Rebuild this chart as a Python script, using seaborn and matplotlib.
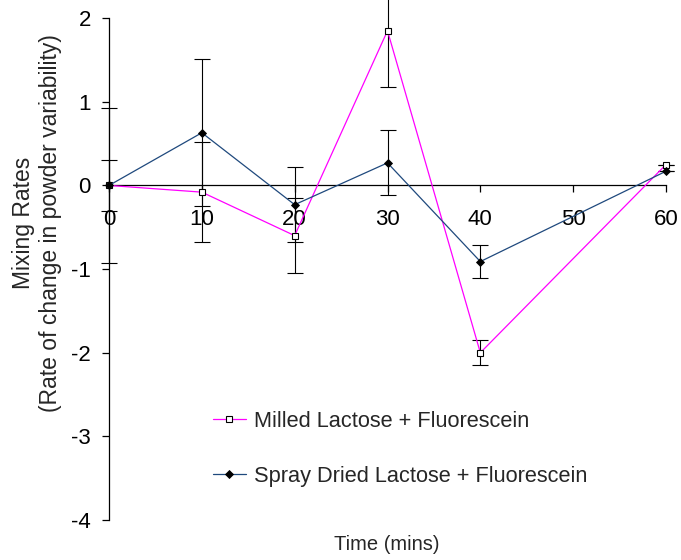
import numpy as np
import pandas as pd
import matplotlib
matplotlib.use("Agg")
import matplotlib.pyplot as plt
import seaborn as sns

# values
time_mins = [0, 10, 20, 30, 40, 60]
milled = [0.0, -0.08, -0.60, 1.85, -2.00, 0.25]
milled_err = [0.31, 0.60, 0.45, 0.67, 0.15, 0.0]
spray = [0.0, 0.63, -0.23, 0.27, -0.91, 0.17]
spray_err = [0.93, 0.88, 0.45, 0.39, 0.20, 0.0]

milled_label = "Milled Lactose + Fluorescein"
spray_label = "Spray Dried Lactose + Fluorescein"

sns.set_style("white")
plt.rcParams['font.family'] = ['Liberation Sans', 'DejaVu Sans']
plt.rcParams['axes.unicode_minus'] = False

fig = plt.figure(figsize=(6.81, 5.6), dpi=100)
ax = fig.add_axes([109 / 681, 1 - 520 / 560, 557 / 681, 506 / 560])

df_m = pd.DataFrame({'time': time_mins, 'rate': milled})
df_s = pd.DataFrame({'time': time_mins, 'rate': spray})

# error bars first so markers sit on top
ax.errorbar(time_mins, milled, yerr=milled_err, fmt='none', ecolor='black',
            elinewidth=0.8, capsize=6, capthick=0.8, zorder=2, clip_on=False)
ax.errorbar(time_mins, spray, yerr=spray_err, fmt='none', ecolor='black',
            elinewidth=0.8, capsize=6, capthick=0.8, zorder=2, clip_on=False)

sns.lineplot(data=df_m, x='time', y='rate', ax=ax, color='#FF00FF', lw=0.9,
             marker='s', markersize=5, markerfacecolor='white',
             markeredgecolor='black', markeredgewidth=0.8,
             estimator=None, sort=False, label=milled_label, zorder=3, clip_on=False)
sns.lineplot(data=df_s, x='time', y='rate', ax=ax, color='#1F497D', lw=0.9,
             marker='D', markersize=4, markerfacecolor='black',
             markeredgecolor='black', markeredgewidth=0.6,
             estimator=None, sort=False, label=spray_label, zorder=4, clip_on=False)

ax.set_xlim(0, 60)
ax.set_ylim(-4, 2.05)
ax.set_xticks(range(0, 61, 10))
ax.set_yticks(range(-4, 3))

for side in ['top', 'right']:
    ax.spines[side].set_visible(False)
ax.spines['bottom'].set_position(('data', 0))
ax.spines['left'].set_bounds(-4, 2)
for side in ['bottom', 'left']:
    ax.spines[side].set_color('black')
    ax.spines[side].set_linewidth(0.9)
    ax.spines[side].set_zorder(1)

ax.tick_params(axis='x', direction='out', length=5, width=0.9, pad=12,
               labelsize=16, colors='black', bottom=True)
ax.tick_params(axis='y', direction='out', length=5, width=0.9, pad=8,
               labelsize=16, colors='black', left=True)

ax.set_xlabel("Time (mins)", fontsize=14.5)
ax.xaxis.set_label_coords(0.498, -0.030)
ax.set_ylabel("Mixing Rates\n(Rate of change in powder variability)",
              fontsize=16.5)
ax.yaxis.set_label_coords(-0.085, 0.587)

ax.legend(loc='center left', bbox_to_anchor=(213 / 681, 1 - 449 / 560),
          bbox_transform=fig.transFigure, frameon=False, fontsize=15.7,
          borderpad=0, borderaxespad=0, handlelength=1.5, handletextpad=0.4,
          labelspacing=1.55)

fig.savefig("out.png", dpi=100)
